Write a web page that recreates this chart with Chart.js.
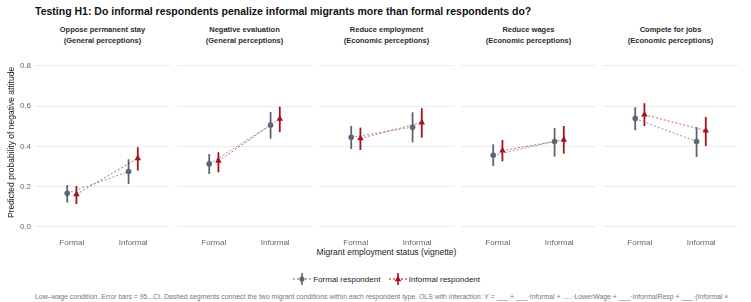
<!DOCTYPE html>
<html>
<head>
<meta charset="utf-8">
<script src="https://cdn.jsdelivr.net/npm/chart.js@4"></script>
<style>
  body { margin: 0; width: 751px; height: 302px; background: #fff; position: relative; overflow: hidden;
         font-family: "Liberation Sans", Arial, sans-serif; }
  .abs { position: absolute; }
  #title { left: 35px; top: 5px; font-size: 10.5px; font-weight: bold; color: #111; white-space: nowrap; }
  .strip { top: 25px; width: 135px; text-align: center; font-size: 7.5px; font-weight: bold; color: #2a2a2a; line-height: 10.5px; }
  #xtitle { left: 35px; width: 703px; top: 247px; text-align: center; font-size: 8.5px; color: #222; }
  #legend { left: 0; width: 773px; top: 272px; text-align: center; font-size: 8px; color: #222; }
  #legend span { display: inline-block; vertical-align: middle; }
  #caption { left: 35px; top: 293px; font-size: 6.9px; color: #777; white-space: nowrap; }
</style>
</head>
<body>
<div id="title" class="abs">Testing H1: Do informal respondents penalize informal migrants more than formal respondents do?</div>
<div id="strips"></div>
<div id="xtitle" class="abs">Migrant employment status (vignette)</div>
<div id="legend" class="abs">
  <svg width="18" height="14" style="vertical-align:middle"><line x1="0" y1="7" x2="18" y2="7" stroke="#5b6673" stroke-dasharray="2,2"/><line x1="9" y1="1" x2="9" y2="13" stroke="#5b6673" stroke-width="1.6"/><circle cx="9" cy="7" r="2.6" fill="#5b6673"/></svg>
  <span style="margin-right:6px">Formal respondent</span>
  <svg width="18" height="14" style="vertical-align:middle"><line x1="0" y1="7" x2="18" y2="7" stroke="#a6121c" stroke-dasharray="2,2"/><line x1="9" y1="1" x2="9" y2="13" stroke="#a6121c" stroke-width="1.6"/><polygon points="9,3.5 12.3,9.3 5.7,9.3" fill="#a6121c"/></svg>
  <span>Informal respondent</span>
</div>
<div id="caption" class="abs">Low–wage condition. Error bars = 95...CI. Dashed segments connect the two migrant conditions within each respondent type. OLS with interaction: Y = ___ + ___·Informal + .....·LowerWage + ___·InformalResp + ___·(Informal ×</div>

<script>
// migrant conditions (x axis)
var categories = ["Formal", "Informal"];
// facet strips
var panelTitles = [
  ["Oppose permanent stay", "(General perceptions)"],
  ["Negative evaluation", "(General perceptions)"],
  ["Reduce employment", "(Economic perceptions)"],
  ["Reduce wages", "(Economic perceptions)"],
  ["Compete for jobs", "(Economic perceptions)"]
];
// formal respondents: estimate, lower, upper  (per panel: [Formal, Informal])
var formalEst = [[0.167, 0.275], [0.313, 0.506], [0.445, 0.495], [0.356, 0.424], [0.538, 0.424]];
var formalLo  = [[0.121, 0.213], [0.263, 0.438], [0.387, 0.420], [0.303, 0.349], [0.480, 0.347]];
var formalHi  = [[0.208, 0.336], [0.362, 0.571], [0.501, 0.569], [0.410, 0.491], [0.594, 0.495]];
// informal respondents
var informalEst = [[0.162, 0.341], [0.328, 0.536], [0.440, 0.518], [0.379, 0.432], [0.557, 0.478]];
var informalLo  = [[0.114, 0.280], [0.271, 0.470], [0.382, 0.443], [0.326, 0.364], [0.501, 0.402]];
var informalHi  = [[0.203, 0.396], [0.371, 0.597], [0.493, 0.589], [0.432, 0.501], [0.614, 0.546]];
var yTicks = [0, 0.2, 0.4, 0.6, 0.8];

var formalColor = "#5b6673";
var informalColor = "#a6121c";
var dodge = 0.075;
var panelLeft = [35, 177, 319, 461, 603];
var panelWidth = 135;

function pts(vals, shift) {
  return vals.map(function(v, i) { return { x: i + 1 + shift, y: v }; });
}

// error bars drawn with the chart's own scales
var errorBars = {
  id: "errorBars",
  beforeDatasetsDraw: function(chart) {
    var p = chart.options.plugins.errorBars;
    var xs = chart.scales.x, ys = chart.scales.y, ctx = chart.ctx;
    ctx.save();
    ctx.lineWidth = 1.8;
    [[p.flo, p.fhi, -dodge, formalColor], [p.ilo, p.ihi, dodge, informalColor]].forEach(function(s) {
      ctx.strokeStyle = s[3];
      for (var i = 0; i < 2; i++) {
        var x = xs.getPixelForValue(i + 1 + s[2]);
        ctx.beginPath();
        ctx.moveTo(x, ys.getPixelForValue(s[0][i]));
        ctx.lineTo(x, ys.getPixelForValue(s[1][i]));
        ctx.stroke();
      }
    });
    ctx.restore();
  }
};

function noPad(sc) {
  sc.paddingTop = 0; sc.paddingBottom = 0; sc.paddingLeft = 0; sc.paddingRight = 0;
}

var strips = document.getElementById("strips");

for (var k = 0; k < 5; k++) {
  var s = document.createElement("div");
  s.className = "abs strip";
  s.style.left = panelLeft[k] + "px";
  s.innerHTML = panelTitles[k][0] + "<br>" + panelTitles[k][1];
  strips.appendChild(s);

  var first = k === 0;
  var wrap = document.createElement("div");
  wrap.className = "abs";
  wrap.style.left = (first ? 0 : panelLeft[k]) + "px";
  wrap.style.top = "50px";
  wrap.style.width = (first ? panelLeft[0] + panelWidth : panelWidth) + "px";
  wrap.style.height = "200px";
  var cv = document.createElement("canvas");
  wrap.appendChild(cv);
  document.body.appendChild(wrap);

  new Chart(cv.getContext("2d"), {
    type: "scatter",
    data: {
      datasets: [
        { data: pts(formalEst[k], -dodge), pointStyle: "circle", pointRadius: 2.8,
          backgroundColor: formalColor, borderColor: formalColor, borderWidth: 0 },
        { data: pts(informalEst[k], dodge), pointStyle: "triangle", pointRadius: 3.8,
          backgroundColor: informalColor, borderColor: informalColor, borderWidth: 0 },
        { data: pts(formalEst[k], -dodge), showLine: true, pointRadius: 0, borderWidth: 1,
          borderDash: [2, 2], borderColor: "rgba(91,102,115,0.65)" },
        { data: pts(informalEst[k], dodge), showLine: true, pointRadius: 0, borderWidth: 1,
          borderDash: [2, 2], borderColor: "rgba(166,18,28,0.65)" }
      ]
    },
    options: {
      responsive: true,
      maintainAspectRatio: false,
      animation: false,
      layout: { padding: 0, autoPadding: false },
      plugins: {
        legend: { display: false },
        tooltip: { enabled: false },
        errorBars: { flo: formalLo[k], fhi: formalHi[k], ilo: informalLo[k], ihi: informalHi[k] }
      },
      scales: {
        x: {
          type: "linear", min: 0.4, max: 2.6,
          grid: { display: false, drawTicks: false },
          border: { display: false },
          afterBuildTicks: function(sc) { sc.ticks = [{ value: 1 }, { value: 2 }]; },
          afterFit: function(sc) { sc.height = 15; noPad(sc); },
          ticks: {
            padding: 3,
            color: "#666", font: { family: "Liberation Sans", size: 8 },
            callback: function(v) { return categories[v - 1]; }
          }
        },
        y: {
          min: -0.0397, max: 0.878,
          afterBuildTicks: function(sc) { sc.ticks = yTicks.map(function(v) { return { value: v }; }); },
          afterFit: (function(f) { return function(sc) { sc.width = f ? 35 : 0; noPad(sc); }; })(first),
          grid: { color: "#ececec", lineWidth: 1, drawTicks: false },
          border: { display: false },
          ticks: {
            display: first, padding: 4,
            color: "#666", font: { family: "Liberation Sans", size: 8 },
            callback: function(v) { return v.toFixed(1); }
          },
          title: {
            display: first,
            text: "Predicted probability of negative attitude",
            color: "#222", font: { family: "Liberation Sans", size: 8.5 },
            padding: { top: 7, bottom: 0 }
          }
        }
      }
    },
    plugins: [errorBars]
  });
}
</script>
</body>
</html>
